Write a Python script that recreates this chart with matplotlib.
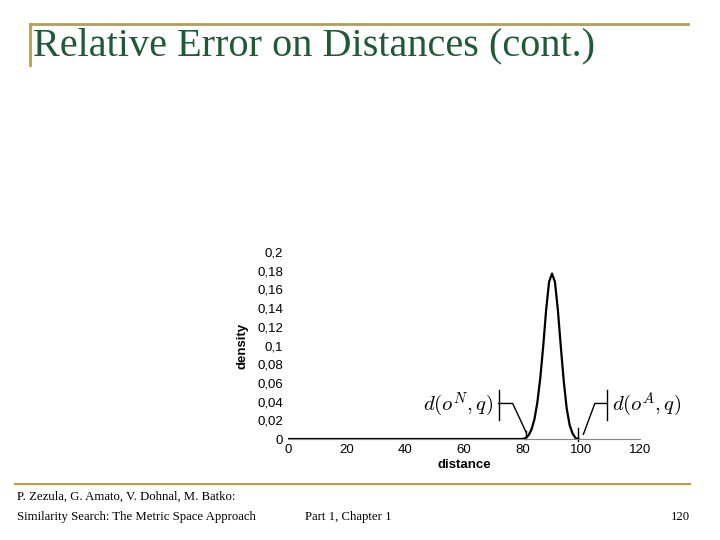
import matplotlib
matplotlib.use("Agg")
import matplotlib.pyplot as plt
from matplotlib.lines import Line2D

dist = [0, 20, 40, 60, 80, 81, 82, 83, 84, 85, 86, 87, 88, 89, 90, 91, 92, 93, 94, 95, 96, 97, 98, 99]
dens = [0, 0, 0, 0, 0, 0.001, 0.004, 0.01, 0.021, 0.039, 0.065, 0.099, 0.138, 0.168, 0.177,
        0.168, 0.138, 0.099, 0.062, 0.033, 0.015, 0.006, 0.001, 0]
xticks = [0, 20, 40, 60, 80, 100, 120]
yticks = [0, 0.02, 0.04, 0.06, 0.08, 0.1, 0.12, 0.14, 0.16, 0.18, 0.2]
ytick_labels = ["0", "0,02", "0,04", "0,06", "0,08", "0,1", "0,12", "0,14", "0,16", "0,18", "0,2"]

fig = plt.figure(figsize=(7.2, 5.4), dpi=100)
fig.patch.set_facecolor("white")
gold = "#b8a040"
green = "#1e5a36"
fig.add_artist(Line2D([30/720, 688/720], [1-24/540, 1-24/540], color=gold, lw=2))
fig.add_artist(Line2D([30/720, 30/720], [1-24/540, 1-65/540], color=gold, lw=2))
fig.add_artist(Line2D([15/720, 690/720], [1-484/540, 1-484/540], color=gold, lw=1.5))
fig.text(33/720, 1-46/540, "Relative Error on Distances (cont.)", family="Liberation Serif",
         fontsize=29, color=green, va="center", ha="left")
fig.text(17/720, 1-497/540, "P. Zezula, G. Amato, V. Dohnal, M. Batko:", family="Liberation Serif", fontsize=9.2, va="center")
fig.text(17/720, 1-517/540, "Similarity Search: The Metric Space Approach", family="Liberation Serif", fontsize=9.2, va="center")
fig.text(305/720, 1-517/540, "Part 1, Chapter 1", family="Liberation Serif", fontsize=9.2, va="center")
fig.text(690/720, 1-517/540, "120", family="Liberation Serif", fontsize=9.2, va="center", ha="right")

ax = fig.add_axes([288/720, 1-439/540, 352/720, 187/540])
ax.plot(dist, dens, color="black", lw=1.6)
ax.set_xlim(0, 120)
ax.set_ylim(0, 0.2)
ax.set_xticks(xticks)
ax.set_yticks(yticks)
ax.set_yticklabels(ytick_labels)
for s in ["top", "right", "left"]:
    ax.spines[s].set_visible(False)
ax.spines["bottom"].set_color("#888888")
ax.tick_params(length=0, labelsize=9.5)
for lab in ax.get_xticklabels() + ax.get_yticklabels():
    lab.set_family("Liberation Sans")
ax.set_xlabel("distance", family="Liberation Sans", fontweight="bold", fontsize=9.5, labelpad=2)
ax.set_ylabel("density", family="Liberation Sans", fontweight="bold", fontsize=9.5, labelpad=6)

kw = dict(color="black", lw=1, clip_on=False)
ax.plot([71.8, 71.8], [0.020, 0.052], **kw)
ax.plot([71.8, 76.6, 81.2], [0.038, 0.038, 0.007], **kw)
ax.plot([81.1, 81.1], [0, 0.009], **kw)
ax.plot([108.6, 108.6], [0.020, 0.052], **kw)
ax.plot([108.6, 104.6, 100.7], [0.038, 0.038, 0.005], **kw)
ax.plot([98.7, 98.7], [-0.002, 0.012], **kw)
ax.text(70, 0.037, r"$d(o^N,q)$", ha="right", va="center", fontsize=15, math_fontfamily="cm")
ax.text(110.5, 0.037, r"$d(o^A,q)$", ha="left", va="center", fontsize=15, math_fontfamily="cm")

fig.savefig("out.png", dpi=100)
